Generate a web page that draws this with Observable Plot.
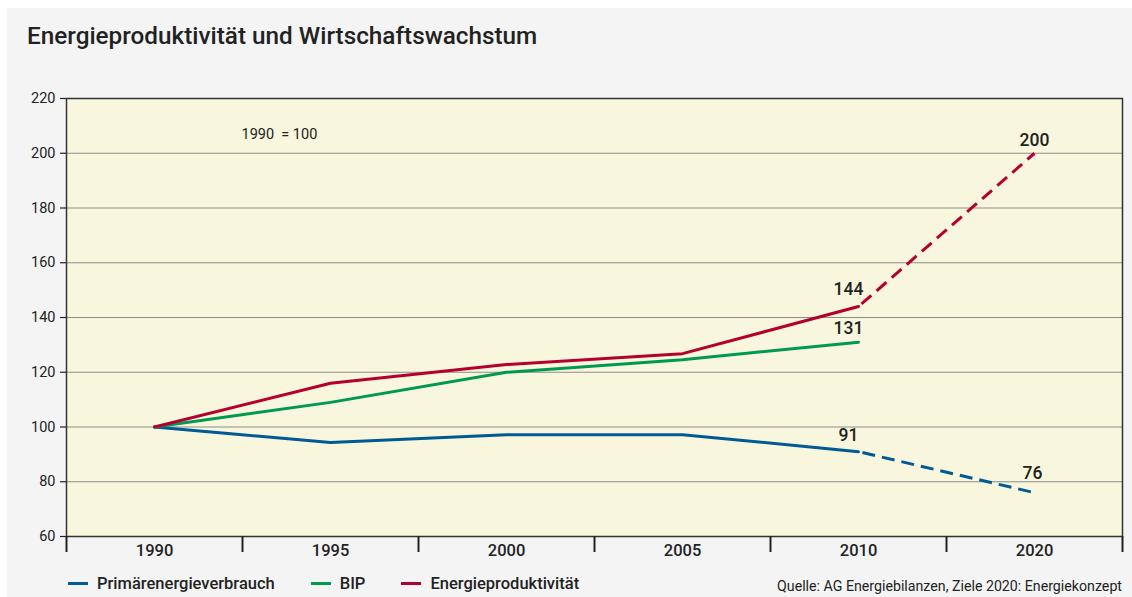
<!DOCTYPE html>
<html><head><meta charset="utf-8">
<script src="https://cdn.jsdelivr.net/npm/d3@7"></script>
<script src="https://cdn.jsdelivr.net/npm/@observablehq/plot@0.6"></script>
<style>
body{margin:0;background:#fff;width:1132px;height:597px;position:relative;overflow:hidden;font-family:Roboto,"Open Sans",sans-serif;color:#222;}
#bg{position:absolute;left:7px;top:8px;right:0;bottom:0;background:#f4f4f4;}
#title{position:absolute;left:27px;top:24px;font-size:24.3px;font-weight:500;line-height:1;white-space:nowrap;}
#chart{position:absolute;left:0;top:62px;}
#legend{position:absolute;left:68px;top:574px;font-size:16.5px;font-weight:500;line-height:19px;white-space:nowrap;display:flex;align-items:center;}
#legend .item{display:flex;align-items:center;margin-right:36px;}
#legend .sw{display:inline-block;width:20px;height:3.5px;margin-right:9px;}
#source{position:absolute;right:10px;top:577px;font-size:14.2px;line-height:18px;white-space:nowrap;}
</style></head>
<body>
<div id="bg"></div>
<div id="title">Energieproduktivität und Wirtschaftswachstum</div>
<div id="chart"></div>
<div id="legend"></div>
<div id="source">Quelle: AG Energiebilanzen, Ziele 2020: Energiekonzept</div>
<script>
const years = ["1990", "1995", "2000", "2005", "2010", "2020"];
const seriesNames = ["Primärenergieverbrauch", "BIP", "Energieproduktivität"];
const seriesColors = ["#005a96", "#00994f", "#b5002f"];
const primaer = [100, 94.3, 97.2, 97.2, 91, 76];
const bip = [100, 109, 120, 124.6, 131, null];
const produkt = [100, 116, 122.8, 126.8, 144, 200];
const yTicks = [60, 80, 100, 120, 140, 160, 180, 200, 220];
const noteText = "1990\u00a0 = 100";

const seriesValues = [primaer, bip, produkt];
const rows = [];
seriesNames.forEach((s, k) => seriesValues[k].forEach((v, i) => {
  if (v != null) rows.push({series: s, i, year: years[i], value: v});
}));
const lastActual = years.indexOf("2010");
const solid = rows.filter(d => d.i <= lastActual);
const dashed = rows.filter(d => d.i >= lastActual);
const find = (s, y) => rows.filter(d => d.series === s && d.year === y);
const idx = d3.range(years.length);
const bounds = d3.range(years.length + 1).map(i => i - 0.5);

const lbl = (data, dx, dy) => Plot.text(data, {x: "i", y: "value", text: d => String(d.value), dx, dy, fontSize: 17.5, fontWeight: 500, fill: "#222"});

const chart = Plot.plot({
  width: 1132, height: 498,
  marginTop: 36, marginBottom: 24, marginLeft: 66, marginRight: 10,
  style: {background: "transparent", fontFamily: "Roboto, 'Open Sans', sans-serif", color: "#222"},
  x: {type: "linear", domain: [-0.5, years.length - 0.5], axis: null},
  y: {domain: [60, 220], axis: null},
  color: {domain: seriesNames, range: seriesColors},
  marks: [
    Plot.frame({fill: "#f8f6dc"}),
    Plot.gridY({ticks: yTicks.slice(1, -1), stroke: "#8c8c8c", strokeOpacity: 1, strokeWidth: 1}),
    Plot.frame({stroke: "#333", strokeWidth: 1.5}),
    Plot.axisY({ticks: yTicks, tickSize: 6, tickPadding: 5, fontSize: 14.5, label: null, stroke: "#222", strokeWidth: 1.2}),
    Plot.axisX({ticks: bounds, tickSize: 16, tickFormat: () => "", label: null, stroke: "#222", strokeWidth: 2}),
    Plot.axisX({ticks: idx, tickSize: 0, tickPadding: 8, tickFormat: i => years[i], fontSize: 16.5, fontWeight: 500, label: null}),
    Plot.text([noteText], {frameAnchor: "top-left", dx: 175, dy: 30, textAnchor: "start", lineAnchor: "top", fontSize: 14.5, fill: "#222"}),
    Plot.line(solid, {x: "i", y: "value", z: "series", stroke: "series", strokeWidth: 3}),
    Plot.line(dashed, {x: "i", y: "value", z: "series", stroke: "series", strokeWidth: 3, strokeDasharray: "13,7", strokeDashoffset: -4, strokeLinecap: "butt"}),
    lbl(find("Energieproduktivität", "2010"), -10, -17),
    lbl(find("BIP", "2010"), -10, -14),
    lbl(find("Primärenergieverbrauch", "2010"), -10, -16),
    lbl(find("Energieproduktivität", "2020"), 0, -13),
    lbl(find("Primärenergieverbrauch", "2020"), -2, -19)
  ]
});
document.getElementById("chart").appendChild(chart);

const legend = document.getElementById("legend");
seriesNames.forEach((s, k) => {
  const it = document.createElement("span");
  it.className = "item";
  const sw = document.createElement("span");
  sw.className = "sw";
  sw.style.background = seriesColors[k];
  it.appendChild(sw);
  it.appendChild(document.createTextNode(s));
  legend.appendChild(it);
});
</script>
</body></html>
